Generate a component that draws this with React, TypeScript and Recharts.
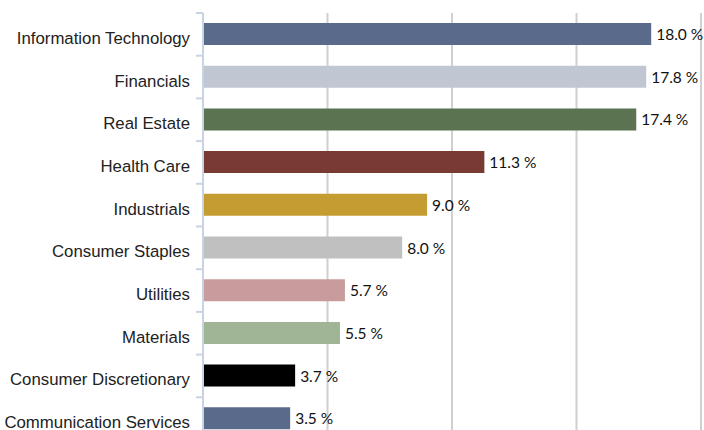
import { BarChart, Bar, XAxis, YAxis, CartesianGrid, Cell, LabelList } from 'recharts'

const sectors = [
  'Information Technology',
  'Financials',
  'Real Estate',
  'Health Care',
  'Industrials',
  'Consumer Staples',
  'Utilities',
  'Materials',
  'Consumer Discretionary',
  'Communication Services',
]
const weights = [18.0, 17.8, 17.4, 11.3, 9.0, 8.0, 5.7, 5.5, 3.7, 3.5]
const COLORS = [
  '#5a6a8b', '#c0c6d2', '#5b7350', '#7a3a34', '#c49c32',
  '#c0c0c0', '#c89c9c', '#a0b496', '#000000', '#5a6a8b',
]
const xTicks = [0, 5, 10, 15, 20]

const data = sectors.map((name, i) => ({ name, value: weights[i] }))

const CHART_H = 440
const TOP = 13
const BAND = (CHART_H - TOP) / sectors.length

function SectorTick(props: any) {
  const { y, payload } = props
  const half = payload && payload.offset ? payload.offset : BAND / 2
  return (
    <g>
      <line x1={203} x2={196} y1={y - half} y2={y - half} stroke="#c8d4e4" strokeWidth={2} />
      <text
        x={190}
        y={y}
        dy={9.5}
        textAnchor="end"
        fontSize={16.8}
        fill="#222"
        fontFamily="'Liberation Sans', Arial, sans-serif"
      >
        {payload.value}
      </text>
    </g>
  )
}

function ValueLabel(props: any) {
  const { x, y, width, height, value } = props
  return (
    <text
      x={x + width + 5}
      y={y + height / 2}
      dy={6}
      fontSize={15.5}
      fill="#111"
      fontFamily="Lato, sans-serif"
    >
      {`${Number(value).toFixed(1)} %`}
    </text>
  )
}

export default function App() {
  return (
    <div style={{ width: 704, height: 430, overflow: 'hidden' }}>
      <style>{'body{margin:0}'}</style>
      <BarChart
        width={704}
        height={CHART_H}
        data={data}
        layout="vertical"
        margin={{ top: TOP, right: 3, left: 0, bottom: 0 }}
      >
        <CartesianGrid horizontal={false} stroke="#d0d0d0" strokeWidth={2} />
        <XAxis type="number" domain={[0, 20]} ticks={xTicks} hide />
        <YAxis
          type="category"
          dataKey="name"
          width={203}
          axisLine={{ stroke: '#c8d4e4', strokeWidth: 2 }}
          tickLine={false}
          tick={<SectorTick />}
          interval={0}
        />
        <Bar dataKey="value" barSize={22} isAnimationActive={false}>
          {data.map((_, i) => <Cell key={i} fill={COLORS[i % COLORS.length]} />)}
          <LabelList dataKey="value" content={<ValueLabel />} />
        </Bar>
      </BarChart>
    </div>
  )
}
